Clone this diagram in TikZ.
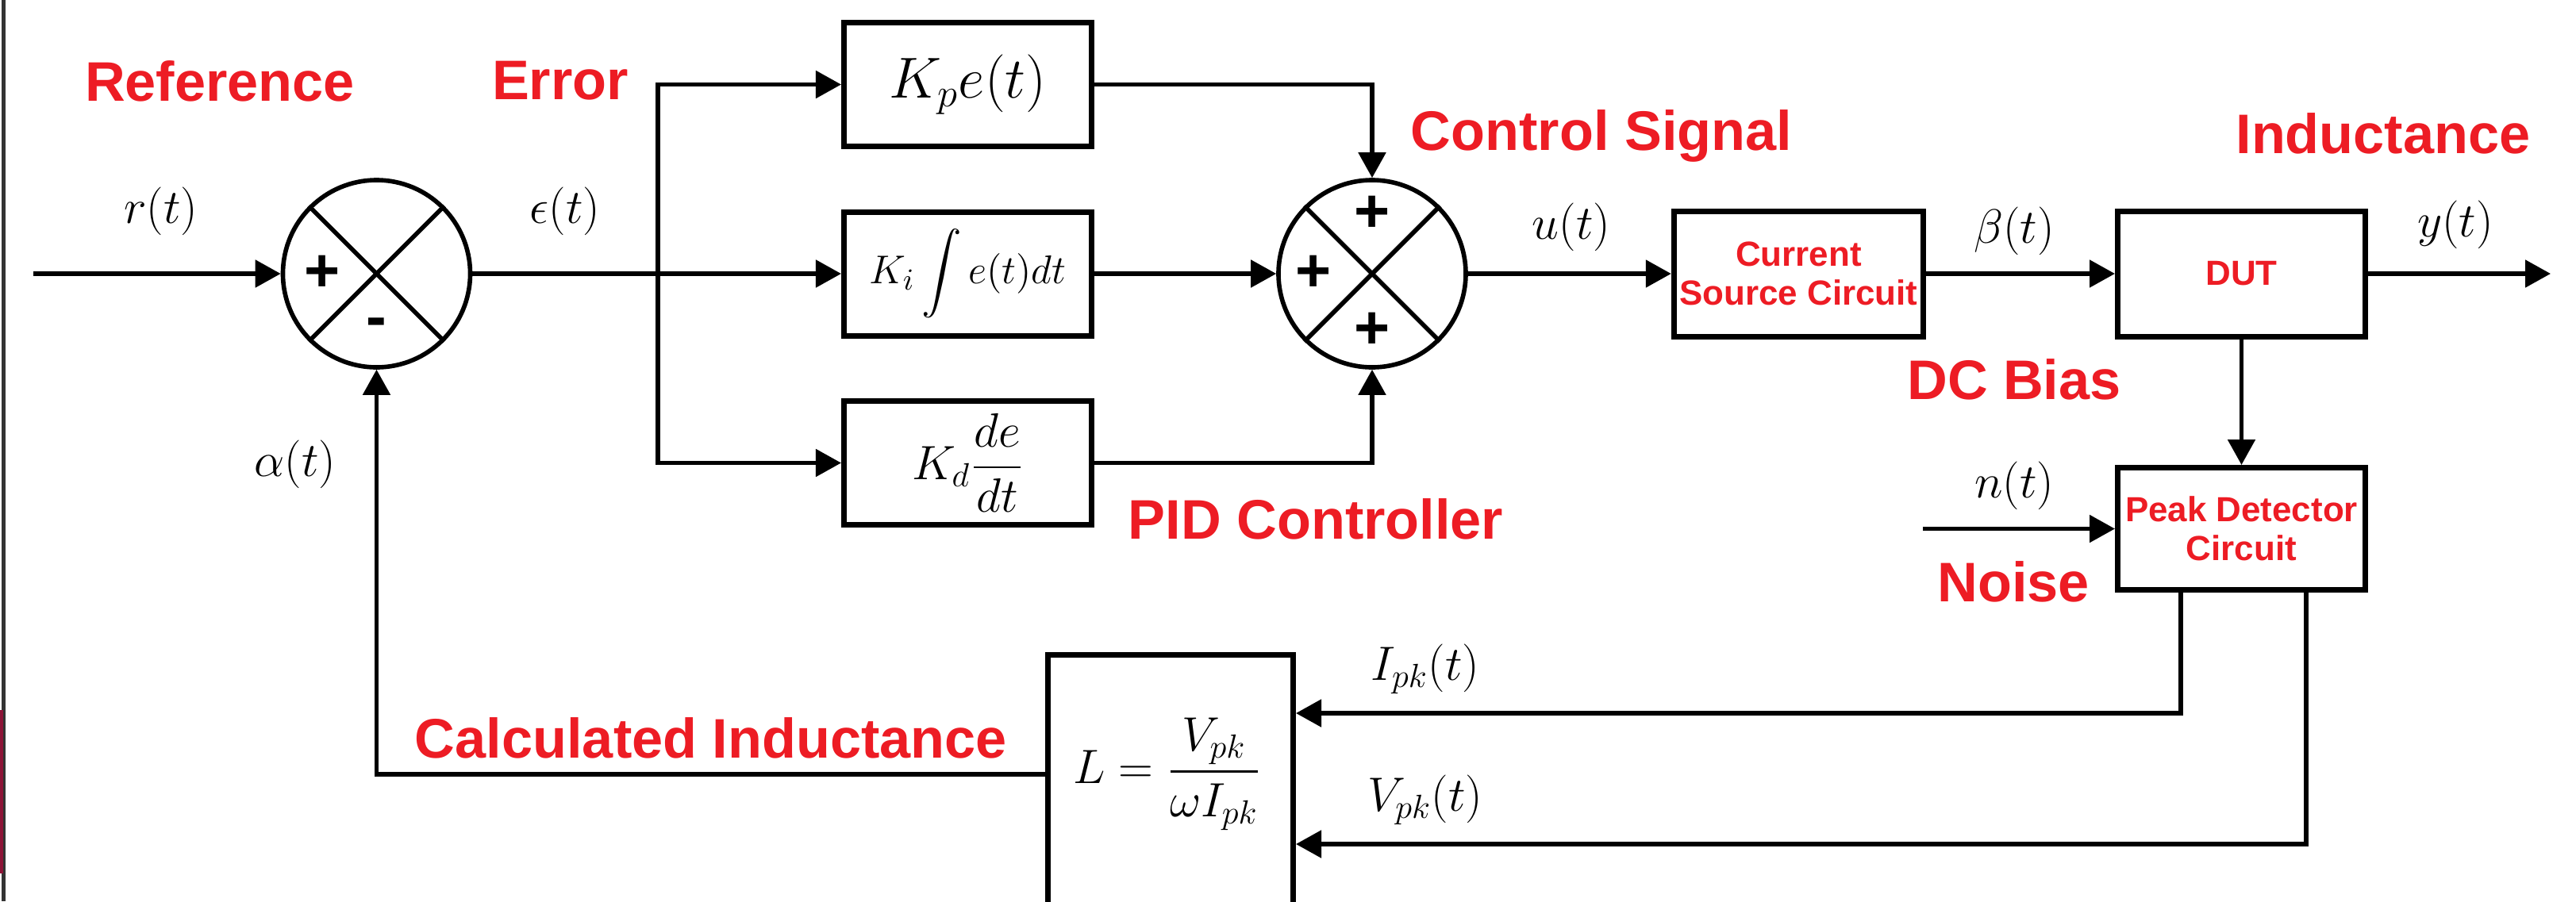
\documentclass[tikz,border=0pt]{standalone}
\usepackage{amsmath}
\usepackage{fontspec}
\setsansfont{Liberation Sans}
\definecolor{lblred}{RGB}{237,28,36}
\definecolor{edgered}{RGB}{140,20,55}
\usetikzlibrary{arrows.meta,positioning,calc}
\tikzset{
  blk/.style={draw, line width=2pt, minimum width=3.12cm, minimum height=1.56cm, inner sep=2pt, align=center},
  sumnode/.style={draw, circle, line width=1.6pt, minimum size=2.36cm, inner sep=0pt},
  sgn/.style={font=\sffamily\bfseries\fontsize{22}{24}\selectfont, inner sep=0pt},
  lbl/.style={font=\sffamily\bfseries\fontsize{20}{24}\selectfont, text=lblred},
  boxlbl/.style={font=\sffamily\bfseries\fontsize{12.5}{14}\selectfont, text=lblred},
  sig/.style={font=\fontsize{18}{22}\selectfont},
  arr/.style={-{Triangle[length=0.32cm,width=0.34cm]}, line width=1.5pt}
}

\begin{document}
\begin{tikzpicture}
  \useasboundingbox (0,0) rectangle (32.46,-11.36);
  % frame edge
  \draw[line width=0.05cm, black!80] (0.045,0) -- (0.045,-11.36);
  \draw[line width=0.04cm, edgered] (0.02,-8.95) -- (0.02,-11.01);

  % error junction
  \node[sumnode] (s1) at (4.745,-3.45) {};
  \draw[line width=1.6pt] (s1.45) -- (s1.225) (s1.135) -- (s1.315);
  \node[sgn] (s1p) at ([xshift=-0.68cm]s1.center) {+};
  \node[sgn] (s1m) at ([yshift=-0.68cm]s1.center) {-};

  \coordinate (in) at (0.42,-3.45);
  \coordinate (br) at (8.29,-3.45);
  \draw[arr] (in) -- (s1.west);

  % PID branches
  \node[blk, font=\fontsize{20.5}{24}\selectfont] (kp) at (12.195,-1.065) {$K_pe(t)$};
  \node[blk, font=\fontsize{15}{18}\selectfont] (ki) at (12.195,-3.45) {$\displaystyle K_i\int e(t)dt$};
  \node[blk, font=\fontsize{17}{20}\selectfont] (kd) at (12.195,-5.835) {$K_d\dfrac{de}{dt}$};

  \draw[arr] (s1.east) -- (ki.west);
  \draw[arr] (br) |- (kp.west);
  \draw[arr] (br) |- (kd.west);

  % control junction
  \node[sumnode] (s2) at (17.29,-3.45) {};
  \draw[line width=1.6pt] (s2.45) -- (s2.225) (s2.135) -- (s2.315);
  \node[sgn] (s2t) at ([yshift=0.75cm]s2.center) {+};
  \node[sgn] (s2l) at ([xshift=-0.74cm]s2.center) {+};
  \node[sgn] (s2b) at ([yshift=-0.72cm]s2.center) {+};

  \draw[arr] (kp.east) -| (s2.north);
  \draw[arr] (ki.east) -- (s2.west);
  \draw[arr] (kd.east) -| (s2.south);

  % plant
  \node[blk, minimum height=1.58cm, boxlbl] (cs) at (22.665,-3.45) {Current\\Source Circuit};
  \node[blk, minimum height=1.58cm, boxlbl] (dut) at (28.245,-3.45) {DUT};
  \node[blk, minimum height=1.54cm, boxlbl] (pk) at (28.245,-6.665) {Peak Detector\\Circuit};
  \coordinate (out) at (32.14,-3.45);
  \coordinate (nse) at (24.23,-6.665);

  \draw[arr] (s2.east) -- (cs.west);
  \draw[arr] (cs.east) -- (dut.west);
  \draw[arr] (dut.east) -- (out);
  \draw[arr] (dut.south) -- (pk.north);
  \draw[arr] (nse) -- (pk.west);

  % inductance calculation
  \node[draw, line width=2pt, minimum width=3.09cm, minimum height=3.3cm] (Lbox) at (14.75,-9.90) {};
  \node[sig] (Lf) at (14.71,-9.76) {$L = \dfrac{V_{pk}}{\omega I_{pk}}$};

  \draw[arr] ([xshift=0.83cm]pk.south west) |- ([yshift=0.91cm]Lbox.east);
  \draw[arr] ([xshift=-0.78cm]pk.south east) |- ([yshift=-0.74cm]Lbox.east);
  \draw[arr] (Lbox.west |- Lf) -| (s1.south);

  % signal names
  \node[sig] (rt) at (2.03,-2.66) {$r(t)$};
  \node[sig] (et) at (7.12,-2.66) {$\epsilon(t)$};
  \node[sig] (at) at (3.72,-5.85) {$\alpha(t)$};
  \node[sig] (ut) at (19.80,-2.86) {$u(t)$};
  \node[sig] (bt) at (25.38,-2.91) {$\beta(t)$};
  \node[sig] (yt) at (30.94,-2.83) {$y(t)$};
  \node[sig] (nt) at (25.38,-6.12) {$n(t)$};
  \node[sig] (it) at (17.96,-8.43) {$I_{pk}(t)$};
  \node[sig] (vt) at (17.96,-10.08) {$V_{pk}(t)$};

  % red captions
  \node[lbl] (cref) at (2.77,-1.02) {Reference};
  \node[lbl] (cerr) at (7.06,-1.02) {Error};
  \node[lbl] (cctl) at (20.18,-1.71) {Control Signal};
  \node[lbl] (cind) at (30.03,-1.685) {Inductance};
  \node[lbl] (cdc) at (25.38,-4.78) {DC Bias};
  \node[lbl] (cpid) at (16.58,-6.54) {PID Controller};
  \node[lbl] (cnse) at (25.37,-7.33) {Noise};
  \node[lbl] (ccal) at (8.96,-9.30) {Calculated Inductance};
\end{tikzpicture}
\end{document}
